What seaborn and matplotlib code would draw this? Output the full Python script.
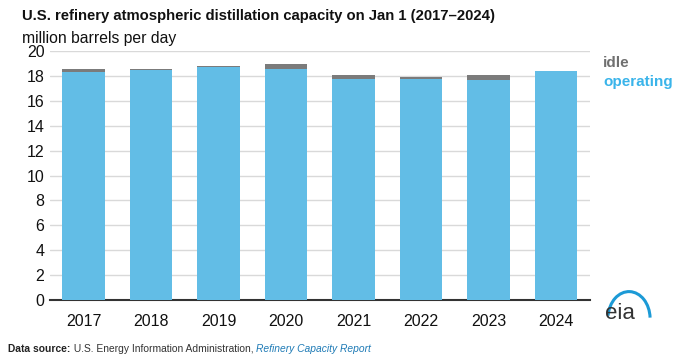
import seaborn as sns
import matplotlib.pyplot as plt
from matplotlib.patches import Arc

years = ["2017", "2018", "2019", "2020", "2021", "2022", "2023", "2024"]
operating = [18.33, 18.53, 18.77, 18.55, 17.74, 17.78, 17.66, 18.38]
idle = [0.27, 0.03, 0.04, 0.40, 0.38, 0.17, 0.40, 0.01]
total = [o + i for o, i in zip(operating, idle)]

blue = "#62bde6"
gray = "#7b7b7b"

sns.set_style("white")
plt.rcParams["font.family"] = ["Liberation Sans", "DejaVu Sans"]

fig = plt.figure(figsize=(6.8, 3.6), dpi=100)
ax = fig.add_axes([0.0735, 0.1667, 0.794, 0.691])

sns.barplot(x=years, y=total, color=gray, width=0.63, saturation=1, linewidth=0, ax=ax, zorder=2)
sns.barplot(x=years, y=operating, color=blue, width=0.63, saturation=1, linewidth=0, ax=ax, zorder=3)

ax.set_ylim(0, 20)
ax.set_xlim(-0.5, 7.5)
ax.set_yticks(range(0, 21, 2))
ax.yaxis.grid(True, color="#d9d9d9", lw=1, zorder=0)
ax.set_axisbelow(True)
for s in ["top", "right", "left"]:
    ax.spines[s].set_visible(False)
ax.spines["bottom"].set_color("#333333")
ax.spines["bottom"].set_linewidth(1.5)
ax.tick_params(axis="both", length=0, labelsize=11.5, colors="#111111")
ax.tick_params(axis="x", pad=10)
ax.tick_params(axis="y", pad=4)
ax.set_xlabel("")
ax.set_ylabel("")

fig.text(0.032, 0.955, "U.S. refinery atmospheric distillation capacity on Jan 1 (2017\u20132024)",
         fontsize=10.7, fontweight="bold", va="center", color="#111111")
fig.text(0.032, 0.893, "million barrels per day", fontsize=11.3, va="center", color="#111111")

fig.text(0.887, 0.825, "idle", fontsize=11, fontweight="bold", color="#707070", va="center")
fig.text(0.887, 0.772, "operating", fontsize=11, fontweight="bold", color="#3ab4ea", va="center")

# source line, pieces chained one after another
src_y = 0.022
t1 = fig.text(0.012, src_y, "Data source:", fontsize=7.4, fontweight="bold", color="#222222", va="baseline")
t2 = fig.text(0, 0, " U.S. Energy Information Administration, ", fontsize=7.4, color="#333333")
t3 = fig.text(0, 0, "Refinery Capacity Report", fontsize=7.4, style="italic", color="#1f7bb6")
fig.canvas.draw()
r = fig.canvas.get_renderer()
inv = fig.transFigure.inverted()
x1 = inv.transform(t1.get_window_extent(r))[1][0]
t2.set_position((x1, src_y))
t2.set_va("baseline")
x2 = inv.transform(t2.get_window_extent(r))[1][0]
t3.set_position((x2, src_y))
t3.set_va("baseline")

# eia logo
fig.text(0.912, 0.13, "eia", fontsize=16, color="#333333", ha="center", va="center")
arc = Arc((0.925, 0.115), 0.062, 0.15, theta1=5, theta2=165, transform=fig.transFigure,
          color="#1c9ad6", lw=2.2)
fig.add_artist(arc)

fig.savefig("out.png", dpi=100)
